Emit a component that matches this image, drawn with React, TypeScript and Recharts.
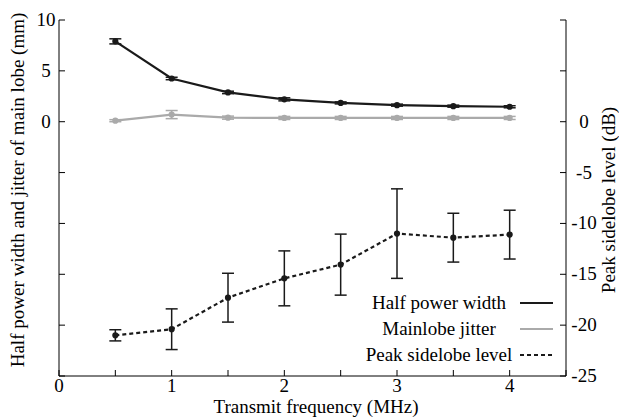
import React from "react";
import { ComposedChart, Line, XAxis, YAxis, ErrorBar, Legend, Label } from "recharts";

const frequency = [0.5, 1, 1.5, 2, 2.5, 3, 3.5, 4];
const halfPowerWidth = [7.9, 4.25, 2.88, 2.2, 1.85, 1.63, 1.53, 1.47];
const halfPowerErr = [0.25, 0.12, 0.12, 0.15, 0.1, 0.1, 0.1, 0.1];
const mainlobeJitter = [0.1, 0.7, 0.4, 0.37, 0.37, 0.37, 0.37, 0.37];
const jitterErr = [0.1, 0.4, 0.15, 0.15, 0.15, 0.15, 0.15, 0.15];
const sidelobeLevel = [-21.0, -20.4, -17.3, -15.4, -14.05, -11.0, -11.4, -11.1];
const sidelobeErr = [0.55, 2.0, 2.4, 2.7, 3.0, 4.4, 2.4, 2.4];

const xTicks = [0, 0.5, 1, 1.5, 2, 2.5, 3, 3.5, 4, 4.5];
const yTicks = [-25, -20, -15, -10, -5, 0, 5, 10];
const leftLabels = [0, 5, 10];
const rightLabels = [-25, -20, -15, -10, -5, 0];

const FONT = "Liberation Serif, DejaVu Serif, Noto Serif, serif";
const FS = 19;

const data = frequency.map((f, i) => ({
  f,
  hpw: halfPowerWidth[i],
  hpwErr: halfPowerErr[i],
  jit: mainlobeJitter[i],
  jitErr: jitterErr[i],
  psl: sidelobeLevel[i],
  pslErr: sidelobeErr[i],
}));

const txt = { fontSize: FS, fontFamily: FONT, fill: "#000" };

const BottomTick = ({ x, y, payload }: any) => (
  <g>
    <line x1={x} x2={x} y1={y} y2={y - 6} stroke="#000" />
    {Number.isInteger(payload.value) && (
      <text x={x} y={y + 16} textAnchor="middle" style={txt}>
        {payload.value}
      </text>
    )}
  </g>
);

const TopTick = ({ x, y }: any) => <line x1={x} x2={x} y1={y} y2={y + 6} stroke="#000" />;

const LeftTick = ({ x, y, payload }: any) => (
  <g>
    <line x1={x} x2={x + 6} y1={y} y2={y} stroke="#000" />
    {leftLabels.includes(payload.value) && (
      <text x={x - 13} y={y + 6} textAnchor="middle" style={txt}>
        {payload.value}
      </text>
    )}
  </g>
);

const RightTick = ({ x, y, payload }: any) => (
  <g>
    <line x1={x} x2={x - 6} y1={y} y2={y} stroke="#000" />
    {rightLabels.includes(payload.value) && (
      <text x={x + 18} y={y + 6} textAnchor="middle" style={txt}>
        {payload.value}
      </text>
    )}
  </g>
);

const legendRows = [
  { name: "Half power width", color: "#1a1a1a", dash: undefined },
  { name: "Mainlobe jitter", color: "#aaaaaa", dash: undefined },
  { name: "Peak sidelobe level", color: "#1a1a1a", dash: "4 3" },
];

const LegendBox = () => (
  <div style={{ fontFamily: FONT, fontSize: FS, color: "#000" }}>
    {legendRows.map((r) => (
      <div key={r.name} style={{ display: "flex", alignItems: "center", height: 26 }}>
        <span style={{ width: 158, textAlign: "center", lineHeight: "26px", whiteSpace: "nowrap" }}>{r.name}</span>
        <svg width={40} height={26}>
          <line x1={2} x2={35} y1={13} y2={13} stroke={r.color} strokeWidth={2.2} strokeDasharray={r.dash} />
        </svg>
      </div>
    ))}
  </div>
);

export default function App() {
  return (
    <div style={{ position: "absolute", left: 0, top: 0, width: 619, height: 417, background: "#fff" }}>
      <ComposedChart width={619} height={417} data={data} margin={{ top: 20, right: 13, bottom: 11, left: 19 }}>
        <XAxis
          xAxisId="bottom"
          dataKey="f"
          type="number"
          domain={[0, 4.5]}
          ticks={xTicks}
          interval={0}
          height={30}
          tickSize={0}
          tickMargin={0}
          tickLine={false}
          tick={<BottomTick />}
          axisLine={{ stroke: "#000" }}
        >
          <Label
            content={() => (
              <text x={316} y={413} textAnchor="middle" style={txt}>
                Transmit frequency (MHz)
              </text>
            )}
          />
        </XAxis>
        <XAxis
          xAxisId="top"
          orientation="top"
          dataKey="f"
          type="number"
          domain={[0, 4.5]}
          ticks={xTicks}
          interval={0}
          height={0}
          tickSize={0}
          tickMargin={0}
          tickLine={false}
          tick={<TopTick />}
          axisLine={{ stroke: "#000" }}
        />
        <YAxis
          yAxisId="left"
          type="number"
          domain={[-25, 10]}
          ticks={yTicks}
          interval={0}
          width={40}
          tickSize={0}
          tickMargin={0}
          tickLine={false}
          tick={<LeftTick />}
          axisLine={{ stroke: "#000" }}
        >
          <Label
            content={() => (
              <text transform="translate(24,190) rotate(-90)" textAnchor="middle" style={txt}>
                Half power width and jitter of main lobe (mm)
              </text>
            )}
          />
        </YAxis>
        <YAxis
          yAxisId="right"
          orientation="right"
          type="number"
          domain={[-25, 10]}
          ticks={yTicks}
          interval={0}
          width={40}
          tickSize={0}
          tickMargin={0}
          tickLine={false}
          tick={<RightTick />}
          axisLine={{ stroke: "#000" }}
        >
          <Label
            content={() => (
              <text transform="translate(615,200) rotate(-90)" textAnchor="middle" style={txt}>
                Peak sidelobe level (dB)
              </text>
            )}
          />
        </YAxis>
        <Legend
          layout="vertical"
          align="center"
          verticalAlign="middle"
          content={<LegendBox />}
          wrapperStyle={{ left: 360, top: 290, width: 200 }}
        />
        <Line
          xAxisId="bottom"
          yAxisId="left"
          dataKey="hpw"
          stroke="#1a1a1a"
          strokeWidth={2.2}
          dot={{ r: 2, fill: "#1a1a1a", stroke: "#1a1a1a" }}
          isAnimationActive={false}
        >
          <ErrorBar dataKey="hpwErr" width={6} stroke="#1a1a1a" strokeWidth={1.5} direction="y" />
        </Line>
        <Line
          xAxisId="bottom"
          yAxisId="left"
          dataKey="jit"
          stroke="#aaaaaa"
          strokeWidth={2.2}
          dot={{ r: 2, fill: "#aaaaaa", stroke: "#aaaaaa" }}
          isAnimationActive={false}
        >
          <ErrorBar dataKey="jitErr" width={6} stroke="#aaaaaa" strokeWidth={1.5} direction="y" />
        </Line>
        <Line
          xAxisId="bottom"
          yAxisId="right"
          dataKey="psl"
          stroke="#1a1a1a"
          strokeWidth={2.2}
          strokeDasharray="4 3"
          dot={{ r: 2, fill: "#1a1a1a", stroke: "#1a1a1a", strokeDasharray: "0" }}
          isAnimationActive={false}
        >
          <ErrorBar dataKey="pslErr" width={6} stroke="#1a1a1a" strokeWidth={1.5} direction="y" />
        </Line>
      </ComposedChart>
    </div>
  );
}
